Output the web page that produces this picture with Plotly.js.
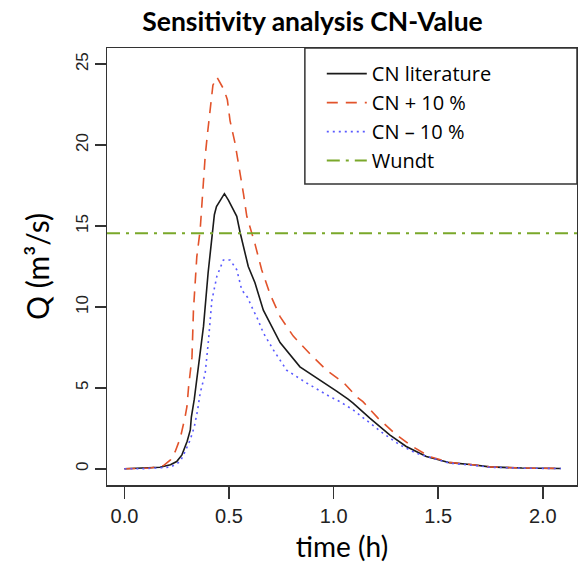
<!DOCTYPE html>
<html>
<head>
<meta charset="utf-8">
<script src="https://cdn.plot.ly/plotly-3.0.1.min.js"></script>
<style>html,body{margin:0;padding:0;background:#fff;}#chart{width:578px;height:566px;}</style>
</head>
<body>
<div id="chart"></div>
<script>
// CN literature
var tLit = [0, 0.10, 0.17, 0.22, 0.25, 0.275, 0.30, 0.315, 0.32, 0.334, 0.346, 0.378, 0.40, 0.418, 0.43, 0.44, 0.466, 0.478, 0.497, 0.537, 0.553, 0.592, 0.624, 0.664, 0.704, 0.744, 0.839, 0.934, 1.014, 1.069, 1.093, 1.173, 1.268, 1.347, 1.443, 1.506, 1.554, 1.665, 1.745, 1.90, 2.086];
var qLit = [0, 0.05, 0.1, 0.25, 0.45, 0.86, 1.7, 2.4, 3.2, 4.3, 5.5, 8.8, 12.1, 14.5, 15.7, 16.2, 16.7, 17.0, 16.6, 15.6, 14.6, 12.5, 11.5, 9.8, 8.8, 7.8, 6.3, 5.5, 4.8, 4.3, 4.06, 3.13, 2.1, 1.38, 0.76, 0.55, 0.38, 0.25, 0.12, 0.05, 0.02];
// CN + 10 %
var tPlus = [0, 0.124, 0.187, 0.22, 0.243, 0.267, 0.29, 0.299, 0.307, 0.323, 0.33, 0.338, 0.346, 0.362, 0.37, 0.378, 0.386, 0.397, 0.41, 0.423, 0.442, 0.477, 0.492, 0.505, 0.529, 0.548, 0.569, 0.585, 0.624, 0.656, 0.696, 0.744, 0.807, 0.887, 0.966, 1.05, 1.109, 1.14, 1.212, 1.30, 1.371, 1.458, 1.506, 1.554, 1.665, 1.745, 1.90, 2.086];
var qPlus = [0, 0.05, 0.2, 0.55, 1.07, 1.9, 3.2, 3.85, 5.1, 6.9, 9.8, 11.9, 13.1, 14.75, 16.4, 18.0, 19.3, 20.7, 22.4, 23.7, 24.2, 23.4, 22.8, 21.5, 20.1, 18.7, 17.0, 15.6, 13.9, 12.3, 10.8, 9.4, 8.2, 7.1, 6.1, 5.3, 4.46, 4.15, 3.13, 2.1, 1.42, 0.76, 0.6, 0.4, 0.25, 0.12, 0.05, 0.02];
// CN - 10 %
var tMinus = [0, 0.076, 0.22, 0.267, 0.29, 0.315, 0.334, 0.35, 0.362, 0.378, 0.386, 0.402, 0.418, 0.442, 0.473, 0.505, 0.537, 0.561, 0.588, 0.616, 0.632, 0.664, 0.712, 0.775, 0.871, 0.982, 1.03, 1.093, 1.157, 1.236, 1.316, 1.395, 1.474, 1.554, 1.665, 1.745, 1.90, 2.086];
var qMinus = [0, 0, 0.1, 0.45, 1.07, 1.8, 2.6, 3.64, 4.67, 5.5, 5.9, 7.96, 10.4, 11.9, 12.9, 12.9, 12.3, 11.05, 10.6, 9.8, 9.4, 8.4, 7.35, 6.1, 5.3, 4.46, 4.15, 3.64, 3.0, 2.2, 1.48, 0.96, 0.66, 0.35, 0.22, 0.1, 0.04, 0.02];
// Wundt reference discharge
var wundtQ = 14.55;
var wundtT = [-0.0832, 2.1632];

var seriesNames = ["CN literature", "CN + 10 %", "CN \u2013 10 %", "Wundt"];

var F = "Lato, 'Open Sans', sans-serif";
var FL = "'Open Sans', Lato, sans-serif";
var traces = [
  {x: tLit, y: qLit, name: seriesNames[0], mode: "lines", line: {color: "#1a1a1a", width: 1.6}},
  {x: tPlus, y: qPlus, name: seriesNames[1], mode: "lines", line: {color: "#e2532b", width: 1.6, dash: "11px,8px"}},
  {x: tMinus, y: qMinus, name: seriesNames[2], mode: "lines", line: {color: "#5a5aff", width: 1.6, dash: "2px,4px"}},
  {x: wundtT, y: [wundtQ, wundtQ], name: seriesNames[3], mode: "lines", line: {color: "#7aa82a", width: 2, dash: "13px,6px,3px,6px"}}
];

var layout = {
  width: 578, height: 566,
  margin: {l: 107, r: 1, t: 48, b: 81, pad: 0},
  paper_bgcolor: "#fff", plot_bgcolor: "#fff",
  title: {text: "<b>Sensitivity analysis CN-Value</b>", font: {family: F, size: 26.5, color: "#000"},
          x: 0.5407, xref: "container", xanchor: "center", y: 0.962, yref: "container", yanchor: "middle"},
  xaxis: {range: [-0.0832, 2.1632], tickvals: [0, 0.5, 1.0, 1.5, 2.0], ticktext: ["0.0", "0.5", "1.0", "1.5", "2.0"],
          showgrid: false, zeroline: false, showline: true, mirror: true, linecolor: "#333", linewidth: 1.5,
          ticks: "outside", ticklen: 12, tickwidth: 1.5, tickcolor: "#333",
          tickfont: {family: "Liberation Sans, Arial, sans-serif", size: 20, color: "#222"},
          title: {text: "time (h)", font: {family: F, size: 28, color: "#000"}, standoff: 12}},
  yaxis: {range: [-1, 26], tickvals: [0, 5, 10, 15, 20, 25], showgrid: false, zeroline: false, showline: true, mirror: true,
          linecolor: "#333", linewidth: 1.5, ticks: "outside", ticklen: 11, tickwidth: 1.5, tickcolor: "#333",
          tickangle: -90, tickfont: {family: "Liberation Sans, Arial, sans-serif", size: 17, color: "#222"},
          title: {text: "Q (m\u00b3/s)", font: {family: F, size: 30, color: "#000"}, standoff: 14}},
  showlegend: true,
  legend: {x: 0.457, xanchor: "left", y: 0.986, yanchor: "top", bgcolor: "rgba(0,0,0,0)", borderwidth: 0,
           font: {family: FL, size: 20, color: "#000"}, itemwidth: 40, tracegroupgap: 0},
  shapes: [{type: "rect", xref: "paper", yref: "paper", x0: 0.421, x1: 1, y0: 0.689, y1: 1,
            line: {color: "#333", width: 1.5}, fillcolor: "rgba(0,0,0,0)"}]
};

Plotly.newPlot("chart", traces, layout, {displayModeBar: false, staticPlot: true});
</script>
</body>
</html>
